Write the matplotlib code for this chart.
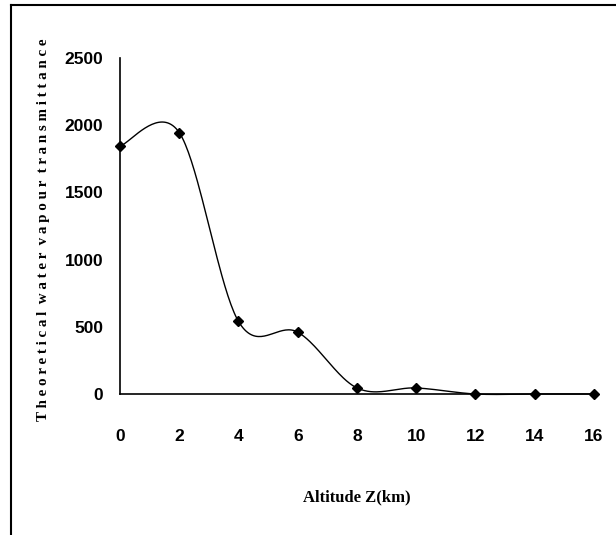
import numpy as np
import matplotlib
matplotlib.use("Agg")
import matplotlib.pyplot as plt
from matplotlib.lines import Line2D

altitude = [0, 2, 4, 6, 8, 10, 12, 14, 16]
transmittance = [1845, 1945, 540, 460, 45, 45, 0, 0, 0]
xticks = [0, 2, 4, 6, 8, 10, 12, 14, 16]
yticks = [0, 500, 1000, 1500, 2000, 2500]

def smooth(x, y, n=40):
    x = np.asarray(x, float); y = np.asarray(y, float)
    px = np.concatenate([[x[0]], x, [x[-1]]])
    py = np.concatenate([[y[0]], y, [y[-1]]])
    xs, ys = [], []
    t = np.linspace(0, 1, n)
    for i in range(1, len(px) - 2):
        p0 = np.array([px[i], py[i]]); p3 = np.array([px[i+1], py[i+1]])
        p1 = p0 + (np.array([px[i+1], py[i+1]]) - np.array([px[i-1], py[i-1]])) / 6
        p2 = p3 - (np.array([px[i+2], py[i+2]]) - np.array([px[i], py[i]])) / 6
        b = ((1-t)**3)[:, None]*p0 + (3*(1-t)**2*t)[:, None]*p1 + (3*(1-t)*t**2)[:, None]*p2 + (t**3)[:, None]*p3
        xs.extend(b[:, 0]); ys.extend(b[:, 1])
    return np.array(xs), np.array(ys)

fig = plt.figure(figsize=(6.16, 5.35), dpi=100)
ax = fig.add_axes([120/616, 1-394/535, 474/616, (394-58)/535])

sx, sy = smooth(altitude, transmittance)
ax.plot(sx, sy, color='black', lw=1.0, clip_on=False)
ax.plot(altitude, transmittance, ls='none', marker='D', ms=5, color='black', clip_on=False, zorder=5)

ax.set_xlim(0, 16)
ax.set_ylim(0, 2500)
ax.set_xticks(xticks)
ax.set_yticks(yticks)
tickfont = dict(family=['Liberation Sans', 'DejaVu Sans'], weight='bold', size=12.5)
ax.set_xticklabels([str(v) for v in xticks], **tickfont)
ax.set_yticklabels([str(v) for v in yticks], **tickfont)
ax.tick_params(length=0, pad=25, axis='x')
ax.tick_params(length=0, pad=12, axis='y')
for s in ['top', 'right']:
    ax.spines[s].set_visible(False)
for s in ['left', 'bottom']:
    ax.spines[s].set_linewidth(1.2)

fig.text(357/616, 1-497/535, 'Altitude Z(km)', ha='center', va='center',
         family=['Liberation Serif', 'DejaVu Serif'], weight='bold', size=12)
fig.text(44/616, 1-230/535, 'T h e o r e t i c a l  w a t e r  v a p o u r  t r a n s m i t t a n c e',
         ha='center', va='center', rotation=90,
         family=['Liberation Serif', 'DejaVu Serif'], weight='bold', size=10.8)

fig.add_artist(Line2D([11/616, 1], [1-5/535, 1-5/535], color='black', lw=1.5, transform=fig.transFigure))
fig.add_artist(Line2D([11/616, 11/616], [0, 1-5/535], color='black', lw=1.5, transform=fig.transFigure))

fig.savefig('out.png', dpi=100)
